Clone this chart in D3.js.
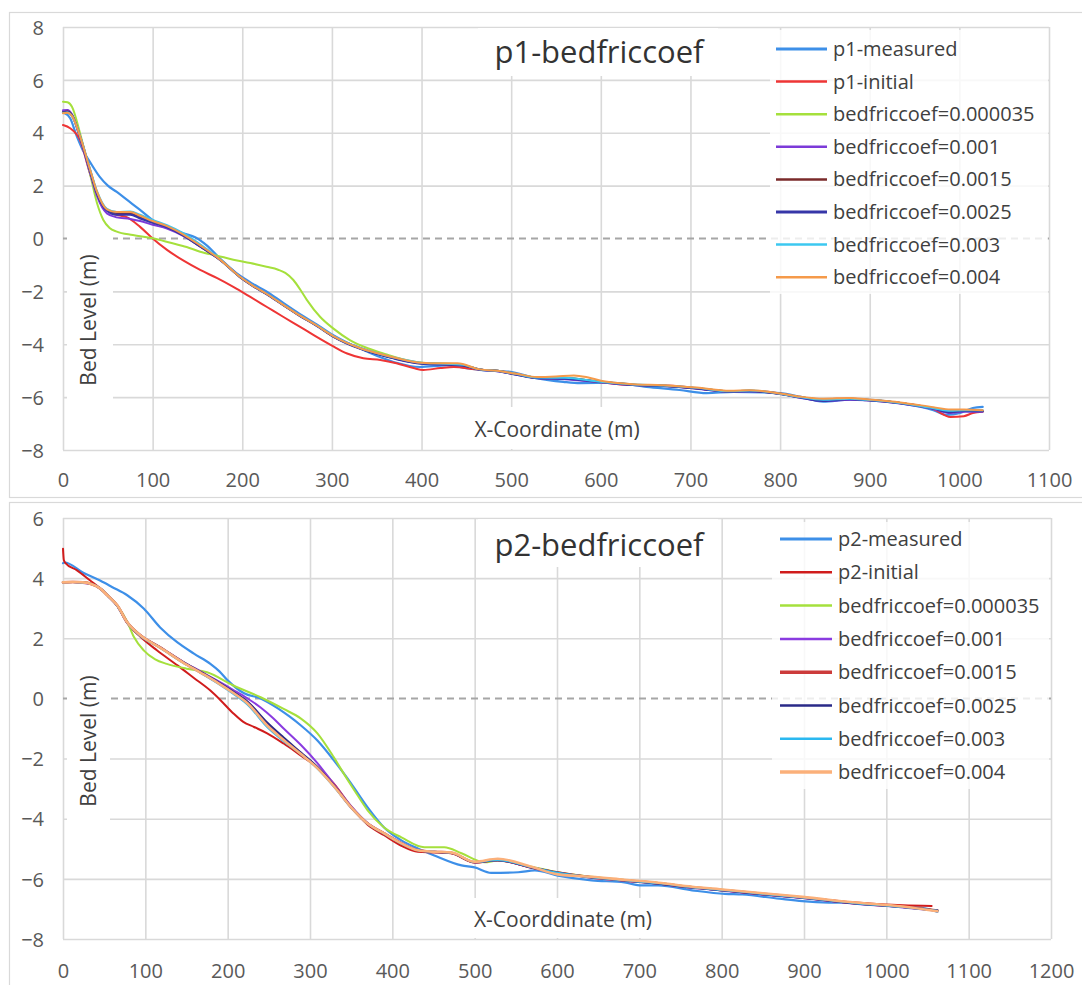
<!DOCTYPE html>
<html>
<head>
<meta charset="utf-8">
<script src="https://cdn.jsdelivr.net/npm/d3@7"></script>
<style>
  body { margin: 0; background: #fff; }
  svg { display: block; }
  text { font-family: "Open Sans", "DejaVu Sans", sans-serif; }
</style>
</head>
<body>
<svg id="chart" width="1082" height="985"></svg>
<script>
// ---------- Profile p1 : bed level (m) against x-coordinate (m) ----------
const p1XTicks = [0, 100, 200, 300, 400, 500, 600, 700, 800, 900, 1000, 1100];
const p1YTicks = [-8, -6, -4, -2, 0, 2, 4, 6, 8];
const p1Names = ["p1-measured", "p1-initial", "bedfriccoef=0.000035", "bedfriccoef=0.001",
                 "bedfriccoef=0.0015", "bedfriccoef=0.0025", "bedfriccoef=0.003", "bedfriccoef=0.004"];

const p1Measured = [[0,4.78],[8,4.55],[15,3.9],[22,3.35],[30,2.9],[41,2.33],[50,2.0],[60,1.76],[73,1.42],[86,1.08],
  [105,0.58],[120,0.38],[134,0.2],[148,0.04],[160,-0.25],[175,-0.75],[197,-1.4],[212,-1.72],[227,-2.0],[245,-2.42],
  [264,-2.85],[283,-3.25],[301,-3.65],[316,-3.92],[331,-4.15],[355,-4.5],[372,-4.7],[398,-4.86],[428,-4.8],[450,-4.9],
  [465,-4.97],[499,-5.04],[528,-5.28],[558,-5.42],[577,-5.47],[614,-5.46],[651,-5.61],[688,-5.73],[718,-5.85],[748,-5.8],
  [800,-5.85],[822,-5.98],[848,-6.17],[878,-6.1],[900,-6.1],[934,-6.23],[971,-6.49],[986,-6.67],[1001,-6.6],[1015,-6.41],[1026,-6.37]];

const p1Initial = [[0,4.29],[8,4.17],[19,3.72],[30,2.47],[41,1.46],[52,1.0],[62,0.88],[71,0.81],[86,0.44],[100,0.0],
  [116,-0.43],[135,-0.85],[153,-1.19],[172,-1.5],[190,-1.83],[209,-2.21],[228,-2.6],[246,-2.97],[265,-3.35],[283,-3.72],
  [300,-4.05],[317,-4.35],[335,-4.53],[354,-4.6],[372,-4.72],[391,-4.9],[402,-4.97],[421,-4.9],[436,-4.86],[460,-4.95],
  [484,-5.0],[506,-5.12],[529,-5.28],[558,-5.3],[595,-5.42],[632,-5.54],[670,-5.55],[707,-5.66],[744,-5.78],[766,-5.76],
  [800,-5.86],[822,-6.0],[848,-6.08],[878,-6.05],[896,-6.1],[934,-6.22],[971,-6.45],[990,-6.75],[1005,-6.72],[1015,-6.6],[1026,-6.55]];

const p1Bf000035 = [[0,5.17],[5,5.15],[10,4.98],[19,3.98],[30,2.47],[38,1.33],[45,0.7],[52,0.4],[60,0.26],[78,0.13],
  [100,0.01],[120,-0.16],[138,-0.32],[153,-0.5],[172,-0.65],[190,-0.8],[209,-0.93],[227,-1.07],[240,-1.18],[248,-1.3],
  [257,-1.57],[265,-1.95],[272,-2.32],[287,-2.97],[301,-3.39],[320,-3.84],[340,-4.15],[360,-4.38],[380,-4.58],[400,-4.7],
  [420,-4.72],[446,-4.78],[465,-4.95],[484,-5.0],[506,-5.13],[529,-5.26],[560,-5.28],[595,-5.4],[632,-5.52],[670,-5.57],
  [707,-5.66],[744,-5.78],[766,-5.76],[800,-5.87],[822,-6.0],[848,-6.1],[878,-6.06],[896,-6.1],[934,-6.22],[971,-6.42],
  [990,-6.53],[1005,-6.5],[1026,-6.52]];

const p1Bf001 = [[0,4.85],[5,4.86],[10,4.7],[19,3.8],[30,2.5],[38,1.6],[49,0.95],[60,0.8],[75,0.74],[86,0.66],
  [100,0.52],[116,0.38],[134,0.1],[153,-0.3],[175,-0.8],[197,-1.42],[212,-1.78],[227,-2.08],[245,-2.48],[264,-2.9],
  [283,-3.28],[301,-3.68],[316,-3.93],[331,-4.13],[350,-4.35],[372,-4.55],[400,-4.73],[420,-4.76],[446,-4.8],[465,-4.96],
  [484,-5.02],[506,-5.15],[529,-5.28],[560,-5.32],[595,-5.42],[632,-5.53],[670,-5.58],[707,-5.68],[744,-5.8],[766,-5.78],
  [800,-5.88],[822,-6.02],[848,-6.15],[878,-6.1],[896,-6.12],[934,-6.24],[971,-6.45],[990,-6.6],[1005,-6.55],[1026,-6.55]];

const p1Bf0015 = [[0,4.78],[5,4.8],[10,4.67],[19,3.85],[30,2.59],[38,1.71],[49,1.08],[60,0.96],[75,0.95],[86,0.8],
  [100,0.62],[116,0.44],[134,0.13],[153,-0.3],[175,-0.8],[197,-1.45],[212,-1.8],[227,-2.1],[245,-2.5],[264,-2.92],
  [283,-3.3],[301,-3.7],[316,-3.95],[331,-4.15],[350,-4.35],[372,-4.55],[400,-4.72],[420,-4.75],[446,-4.8],[465,-4.95],
  [484,-5.0],[506,-5.14],[529,-5.27],[560,-5.28],[595,-5.4],[632,-5.52],[670,-5.57],[707,-5.66],[744,-5.78],[766,-5.76],
  [800,-5.87],[822,-6.0],[848,-6.1],[878,-6.06],[896,-6.1],[934,-6.22],[971,-6.42],[990,-6.55],[1005,-6.5],[1026,-6.52]];

const p1Bf0025 = [[0,4.76],[5,4.78],[10,4.65],[19,3.86],[30,2.6],[38,1.72],[49,1.05],[60,0.9],[75,0.9],[86,0.76],
  [100,0.6],[116,0.43],[134,0.12],[153,-0.3],[175,-0.8],[197,-1.44],[212,-1.8],[227,-2.1],[245,-2.5],[264,-2.92],
  [283,-3.3],[301,-3.7],[316,-3.96],[331,-4.16],[350,-4.36],[372,-4.56],[400,-4.73],[420,-4.76],[446,-4.8],[465,-4.96],
  [484,-5.01],[506,-5.15],[529,-5.28],[560,-5.3],[595,-5.41],[632,-5.53],[670,-5.58],[707,-5.67],[744,-5.79],[766,-5.77],
  [800,-5.88],[822,-6.01],[848,-6.14],[878,-6.08],[896,-6.11],[934,-6.23],[971,-6.43],[990,-6.57],[1005,-6.52],[1026,-6.53]];

const p1Bf003 = [[0,4.75],[5,4.77],[10,4.64],[19,3.88],[30,2.65],[38,1.78],[49,1.12],[60,1.0],[75,1.02],[86,0.9],
  [100,0.7],[116,0.5],[134,0.2],[153,-0.22],[175,-0.78],[197,-1.43],[212,-1.78],[227,-2.08],[245,-2.48],[264,-2.9],
  [283,-3.28],[301,-3.67],[316,-3.93],[331,-4.13],[350,-4.33],[372,-4.52],[400,-4.7],[420,-4.73],[446,-4.78],[465,-4.95],
  [484,-5.0],[506,-5.13],[529,-5.26],[560,-5.27],[595,-5.4],[632,-5.51],[670,-5.56],[707,-5.65],[744,-5.78],[766,-5.75],
  [800,-5.87],[822,-6.0],[848,-6.1],[878,-6.06],[896,-6.1],[934,-6.22],[971,-6.42],[990,-6.52],[1005,-6.5],[1026,-6.5]];

const p1Bf004 = [[0,4.74],[5,4.76],[10,4.64],[19,3.87],[30,2.63],[38,1.76],[49,1.1],[60,1.0],[75,1.0],[86,0.86],
  [100,0.66],[116,0.47],[134,0.16],[153,-0.26],[175,-0.79],[197,-1.44],[212,-1.79],[227,-2.09],[245,-2.49],[264,-2.91],
  [283,-3.29],[301,-3.68],[316,-3.94],[331,-4.14],[350,-4.33],[372,-4.52],[400,-4.7],[420,-4.72],[440,-4.72],[465,-4.95],
  [484,-5.0],[506,-5.12],[529,-5.24],[550,-5.22],[570,-5.18],[585,-5.25],[600,-5.38],[632,-5.5],[670,-5.55],[707,-5.64],
  [744,-5.76],[766,-5.74],[800,-5.86],[822,-5.98],[848,-6.06],[878,-6.03],[896,-6.08],[934,-6.2],[971,-6.38],[990,-6.47],
  [1005,-6.47],[1026,-6.5]];

// ---------- Profile p2 ----------
const p2XTicks = [0, 100, 200, 300, 400, 500, 600, 700, 800, 900, 1000, 1100, 1200];
const p2YTicks = [-8, -6, -4, -2, 0, 2, 4, 6];
const p2Names = ["p2-measured", "p2-initial", "bedfriccoef=0.000035", "bedfriccoef=0.001",
                 "bedfriccoef=0.0015", "bedfriccoef=0.0025", "bedfriccoef=0.003", "bedfriccoef=0.004"];

const p2Measured = [[0,4.5],[2,4.52],[24,4.19],[45,3.92],[60,3.7],[78,3.43],[98,2.99],[118,2.36],[139,1.86],[159,1.49],
  [179,1.15],[190,0.9],[200,0.6],[220,0.17],[240,0.0],[261,-0.33],[275,-0.6],[289,-0.9],[309,-1.4],[329,-2.06],
  [350,-2.83],[370,-3.62],[390,-4.29],[411,-4.72],[431,-4.99],[451,-5.22],[484,-5.55],[500,-5.62],[520,-5.8],[553,-5.78],
  [573,-5.72],[601,-5.89],[642,-6.05],[682,-6.12],[703,-6.22],[723,-6.22],[764,-6.38],[804,-6.5],[825,-6.52],[870,-6.66],
  [898,-6.74],[930,-6.79],[959,-6.8],[990,-6.86],[1020,-6.93],[1045,-6.97],[1062,-7.1]];

const p2Initial = [[0,4.98],[1,4.6],[3,4.5],[17,4.26],[33,3.92],[45,3.66],[55,3.4],[66,3.07],[78,2.5],[94,2.05],
  [114,1.6],[139,1.1],[159,0.68],[179,0.26],[191,-0.05],[207,-0.5],[219,-0.78],[232,-0.95],[248,-1.16],[268,-1.5],
  [289,-1.9],[309,-2.29],[329,-2.83],[350,-3.6],[370,-4.2],[390,-4.55],[411,-4.9],[431,-5.1],[451,-5.12],[471,-5.15],
  [500,-5.45],[528,-5.39],[569,-5.62],[601,-5.79],[642,-5.95],[682,-6.05],[723,-6.15],[764,-6.28],[804,-6.38],[850,-6.52],
  [898,-6.62],[959,-6.78],[1020,-6.88],[1055,-6.9]];

const p2Bf000035 = [[0,3.86],[12,3.87],[24,3.86],[35,3.8],[45,3.66],[55,3.4],[66,3.09],[78,2.55],[86,2.05],[98,1.6],
  [112,1.3],[126,1.15],[150,0.99],[175,0.87],[207,0.43],[240,0.04],[268,-0.35],[289,-0.67],[309,-1.16],[329,-1.96],
  [341,-2.5],[354,-3.06],[370,-3.72],[390,-4.29],[411,-4.62],[439,-4.95],[463,-4.95],[484,-5.15],[512,-5.45],[528,-5.39],
  [569,-5.6],[601,-5.78],[642,-5.93],[682,-6.04],[723,-6.14],[764,-6.27],[804,-6.37],[850,-6.5],[898,-6.61],[959,-6.8],
  [1020,-6.93],[1062,-7.05]];

const p2Bf001 = [[0,3.86],[12,3.87],[24,3.84],[35,3.8],[45,3.66],[55,3.4],[66,3.08],[78,2.52],[94,2.1],[118,1.7],
  [146,1.22],[167,0.9],[188,0.58],[207,0.28],[224,0.0],[240,-0.3],[255,-0.65],[268,-1.0],[289,-1.55],[309,-2.15],
  [329,-2.85],[350,-3.58],[370,-4.14],[390,-4.48],[411,-4.8],[431,-5.04],[451,-5.1],[471,-5.13],[500,-5.45],[528,-5.38],
  [569,-5.63],[601,-5.8],[642,-5.96],[682,-6.06],[723,-6.16],[764,-6.3],[804,-6.4],[850,-6.52],[898,-6.64],[959,-6.82],
  [1020,-6.95],[1062,-7.06]];

const p2Bf0015 = [[0,3.86],[12,3.87],[24,3.86],[35,3.8],[45,3.66],[55,3.4],[66,3.09],[78,2.53],[94,2.1],[118,1.7],
  [146,1.2],[167,0.87],[188,0.53],[207,0.2],[224,-0.13],[248,-0.85],[268,-1.35],[289,-1.83],[309,-2.3],[329,-2.9],
  [350,-3.62],[370,-4.16],[390,-4.49],[411,-4.82],[431,-5.05],[451,-5.1],[471,-5.13],[500,-5.45],[528,-5.37],[569,-5.62],
  [601,-5.79],[642,-5.95],[682,-6.05],[723,-6.15],[764,-6.28],[804,-6.38],[850,-6.5],[898,-6.62],[959,-6.8],[1020,-6.93],
  [1062,-7.05]];

const p2Bf0025 = [[0,3.86],[12,3.87],[24,3.85],[35,3.8],[45,3.66],[55,3.4],[66,3.08],[78,2.53],[94,2.1],[118,1.7],
  [146,1.21],[167,0.88],[188,0.55],[207,0.22],[224,-0.1],[248,-0.8],[268,-1.3],[289,-1.8],[309,-2.28],[329,-2.9],
  [350,-3.62],[370,-4.16],[390,-4.5],[411,-4.83],[431,-5.05],[451,-5.11],[471,-5.13],[500,-5.45],[528,-5.38],[569,-5.62],
  [601,-5.8],[642,-5.95],[682,-6.05],[723,-6.16],[764,-6.29],[804,-6.39],[850,-6.51],[898,-6.63],[959,-6.81],[1020,-6.94],
  [1062,-7.05]];

const p2Bf003 = [[0,3.86],[12,3.87],[24,3.85],[35,3.8],[45,3.66],[55,3.4],[66,3.08],[78,2.52],[94,2.08],[118,1.68],
  [146,1.18],[167,0.85],[188,0.5],[207,0.15],[224,-0.2],[248,-0.95],[268,-1.42],[289,-1.86],[309,-2.33],[329,-2.93],
  [350,-3.63],[370,-4.17],[390,-4.5],[411,-4.83],[431,-5.05],[451,-5.1],[471,-5.12],[500,-5.44],[528,-5.37],[569,-5.61],
  [601,-5.8],[642,-5.95],[682,-6.05],[723,-6.15],[764,-6.28],[804,-6.38],[850,-6.5],[898,-6.62],[959,-6.8],[1020,-6.94],
  [1062,-7.06]];

const p2Bf004 = [[0,3.86],[12,3.87],[24,3.86],[35,3.8],[45,3.66],[55,3.4],[66,3.09],[78,2.53],[94,2.1],[118,1.69],
  [146,1.19],[167,0.86],[188,0.52],[207,0.18],[224,-0.16],[248,-0.9],[268,-1.38],[289,-1.85],[309,-2.32],[329,-2.92],
  [350,-3.62],[370,-4.16],[390,-4.49],[411,-4.82],[431,-5.05],[451,-5.1],[471,-5.12],[500,-5.43],[528,-5.33],[569,-5.6],
  [601,-5.85],[642,-5.93],[682,-6.03],[723,-6.13],[764,-6.26],[804,-6.36],[850,-6.48],[898,-6.6],[959,-6.78],[1020,-6.92],
  [1062,-7.08]];

// ---------- drawing ----------
const svg = d3.select("#chart");
const GRID = "#d9d9d9";
const TICK_TEXT = "#595959";
const LABEL_TEXT = "#404040";

function drawPanel(cfg) {
  const g = svg.append("g");

  // chart-area frame
  g.append("rect")
    .attr("x", 9.5).attr("y", cfg.frameTop + 0.5)
    .attr("width", 1100).attr("height", cfg.frameHeight)
    .attr("fill", "#fff").attr("stroke", GRID).attr("stroke-width", 1.2);

  const x = d3.scaleLinear().domain(cfg.xDomain).range([cfg.left, cfg.right]);
  const y = d3.scaleLinear().domain(cfg.yDomain).range([cfg.bottom, cfg.top]);

  // vertical gridlines + x tick labels
  const xAxis = g.append("g")
    .attr("transform", `translate(0,${cfg.bottom})`)
    .call(d3.axisBottom(x).tickValues(cfg.xTicks).tickSize(-(cfg.bottom - cfg.top)).tickFormat(d3.format("d")));
  xAxis.select(".domain").remove();
  xAxis.selectAll("line").attr("stroke", GRID).attr("stroke-width", 1.6);
  xAxis.selectAll("text")
    .attr("y", cfg.xLabelBaseline - cfg.bottom).attr("dy", 0)
    .attr("fill", TICK_TEXT).style("font-size", "20px");

  // horizontal gridlines + y tick labels (the zero level is drawn dashed)
  const yAxis = g.append("g")
    .attr("transform", `translate(${cfg.left},0)`)
    .call(d3.axisLeft(y).tickValues(cfg.yTicks).tickSize(-(cfg.right - cfg.left)).tickPadding(19).tickFormat(d3.format("d")));
  yAxis.select(".domain").remove();
  yAxis.selectAll("line")
    .attr("stroke", d => d === 0 ? "none" : GRID).attr("stroke-width", 1.6);
  yAxis.selectAll("text")
    .attr("dy", "0.36em").attr("fill", TICK_TEXT).style("font-size", "20px");

  g.append("line")
    .attr("x1", cfg.left).attr("x2", cfg.right)
    .attr("y1", y(0)).attr("y2", y(0))
    .attr("stroke", "#a6a6a6").attr("stroke-width", 2).attr("stroke-dasharray", "7,5");

  // white boxes behind the titles
  const box = (x0, y0, x1, y1) => g.append("rect")
    .attr("x", x0).attr("y", y0).attr("width", x1 - x0).attr("height", y1 - y0).attr("fill", "#fff");
  box(...cfg.titleBox);
  box(...cfg.xTitleBox);
  box(...cfg.yTitleBox);

  // series lines
  const line = d3.line().x(d => x(d[0])).y(d => y(d[1])).curve(d3.curveMonotoneX);
  cfg.series.forEach(s => {
    g.append("path").datum(s.data)
      .attr("d", line)
      .attr("fill", "none")
      .attr("stroke", s.color)
      .attr("stroke-width", s.width)
      .attr("stroke-linejoin", "round").attr("stroke-linecap", "round");
  });

  // titles
  g.append("text")
    .attr("x", cfg.titleX).attr("y", cfg.titleBaseline)
    .attr("text-anchor", "middle").attr("fill", "#333")
    .style("font-size", "31px").text(cfg.title);
  g.append("text")
    .attr("x", cfg.xTitleX).attr("y", cfg.xTitleBaseline)
    .attr("text-anchor", "middle").attr("fill", LABEL_TEXT)
    .style("font-size", "21px").text(cfg.xTitle);
  g.append("text")
    .attr("transform", `translate(${cfg.yTitleX},${cfg.yTitleY}) rotate(-90)`)
    .attr("text-anchor", "middle").attr("fill", LABEL_TEXT)
    .style("font-size", "21px").text("Bed Level (m)");

  // legend
  const lg = g.append("g");
  lg.append("rect")
    .attr("x", cfg.legend.x0).attr("y", cfg.legend.y0)
    .attr("width", cfg.legend.x1 - cfg.legend.x0).attr("height", cfg.legend.y1 - cfg.legend.y0)
    .attr("fill", "#fff").attr("fill-opacity", 0.8);
  cfg.series.forEach((s, i) => {
    const cy = cfg.legend.firstY + i * cfg.legend.step;
    lg.append("line")
      .attr("x1", cfg.legend.lineX0).attr("x2", cfg.legend.lineX1)
      .attr("y1", cy).attr("y2", cy)
      .attr("stroke", s.color).attr("stroke-width", s.legendWidth);
    lg.append("text")
      .attr("x", cfg.legend.textX).attr("y", cy).attr("dy", "0.35em")
      .attr("fill", LABEL_TEXT).style("font-size", "20px")
      .text(cfg.names[i]);
  });
}

drawPanel({
  frameTop: 12, frameHeight: 485,
  left: 63, right: 1049, top: 27, bottom: 450,
  xDomain: [0, 1100], yDomain: [-8, 8],
  xTicks: p1XTicks, yTicks: p1YTicks, xLabelBaseline: 487,
  title: "p1-bedfriccoef", titleX: 599, titleBaseline: 63,
  titleBox: [478, 28, 718, 76],
  xTitle: "X-Coordinate (m)", xTitleX: 557, xTitleBaseline: 437,
  xTitleBox: [450, 407, 665, 449],
  yTitleX: 96, yTitleY: 320, yTitleBox: [67, 232, 113, 405],
  names: p1Names,
  series: [
    { data: p1Measured, color: "#3d8fe8", width: 2.2, legendWidth: 3 },
    { data: p1Initial, color: "#ee3535", width: 2, legendWidth: 2.5 },
    { data: p1Bf000035, color: "#a5e03c", width: 2, legendWidth: 2.5 },
    { data: p1Bf001, color: "#7c3ad8", width: 2, legendWidth: 2.5 },
    { data: p1Bf0015, color: "#7a2a2a", width: 2, legendWidth: 2.5 },
    { data: p1Bf0025, color: "#3636a8", width: 2.2, legendWidth: 3 },
    { data: p1Bf003, color: "#3cc8f0", width: 2, legendWidth: 2.5 },
    { data: p1Bf004, color: "#f59a4a", width: 2, legendWidth: 2.5 }
  ],
  legend: { x0: 770, y0: 30, x1: 1048, y1: 294, firstY: 49, step: 32.6, lineX0: 776, lineX1: 827, textX: 833 }
});

drawPanel({
  frameTop: 502, frameHeight: 500,
  left: 63, right: 1051, top: 518, bottom: 939,
  xDomain: [0, 1200], yDomain: [-8, 6],
  xTicks: p2XTicks, yTicks: p2YTicks, xLabelBaseline: 978,
  title: "p2-bedfriccoef", titleX: 599, titleBaseline: 556,
  titleBox: [478, 519, 718, 567],
  xTitle: "X-Coorddinate (m)", xTitleX: 563, xTitleBaseline: 927,
  xTitleBox: [455, 898, 680, 938],
  yTitleX: 96, yTitleY: 741, yTitleBox: [67, 660, 110, 832],
  names: p2Names,
  series: [
    { data: p2Measured, color: "#3d8fe8", width: 2.2, legendWidth: 3 },
    { data: p2Initial, color: "#d01c1c", width: 2, legendWidth: 2.5 },
    { data: p2Bf000035, color: "#a5e03c", width: 2, legendWidth: 2.5 },
    { data: p2Bf001, color: "#8a3be0", width: 2, legendWidth: 2.5 },
    { data: p2Bf0015, color: "#cc3b3b", width: 2.6, legendWidth: 3.5 },
    { data: p2Bf0025, color: "#2a2a88", width: 2, legendWidth: 2.5 },
    { data: p2Bf003, color: "#2ab8f0", width: 2, legendWidth: 2.5 },
    { data: p2Bf004, color: "#fbb07a", width: 2.6, legendWidth: 3.5 }
  ],
  legend: { x0: 772, y0: 522, x1: 1049, y1: 789, firstY: 539, step: 33.3, lineX0: 780, lineX1: 832, textX: 838 }
});
</script>
</body>
</html>
